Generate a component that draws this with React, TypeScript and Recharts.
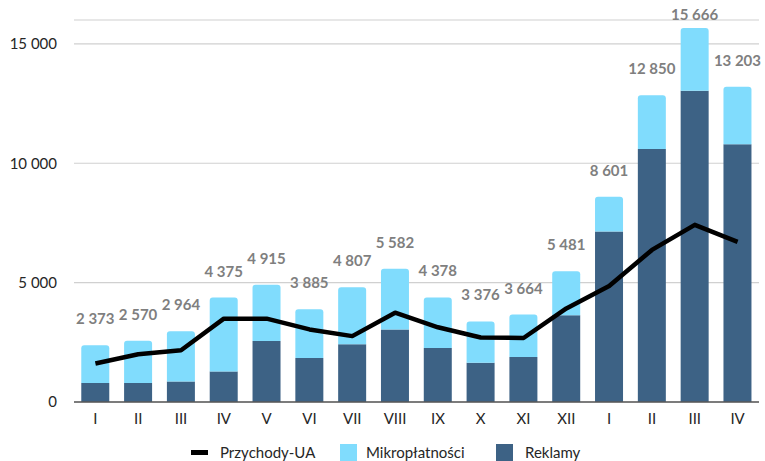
import React from 'react';
import {
  ComposedChart,
  Bar,
  Line,
  XAxis,
  YAxis,
  CartesianGrid,
  LabelList,
} from 'recharts';

const months = ['I', 'II', 'III', 'IV', 'V', 'VI', 'VII', 'VIII', 'IX', 'X', 'XI', 'XII', 'I', 'II', 'III', 'IV'];
const totals = [2373, 2570, 2964, 4375, 4915, 3885, 4807, 5582, 4378, 3376, 3664, 5481, 8601, 12850, 15666, 13203];
const reklamy = [800, 800, 860, 1280, 2550, 1840, 2420, 3040, 2260, 1640, 1890, 3630, 7140, 10600, 13040, 10800];
const przychodyUA = [1610, 2000, 2170, 3490, 3490, 3040, 2760, 3740, 3130, 2700, 2680, 3920, 4860, 6370, 7420, 6710];

const DARK = '#3d6285';
const LIGHT = '#80dcfd';
const FONT = 'Lato, "Open Sans", sans-serif';

const data = months.map((m, i) => ({
  key: `${m}-${i}`,
  month: m,
  reklamy: reklamy[i],
  mikro: totals[i] - reklamy[i],
  total: totals[i],
  ua: przychodyUA[i],
}));

const fmt = (v: number) => String(v).replace(/\B(?=(\d{3})+(?!\d))/g, ' ');

// total sits above the stack, pushed down when it would leave the top edge
const TotalLabel = (props: any) => {
  const { x, y, width, value } = props;
  return (
    <text
      x={x + width / 2}
      y={Math.max(y - 21, 20)}
      textAnchor="middle"
      fill="#7f7f7f"
      fontSize={15}
      fontWeight={700}
      fontFamily={FONT}
    >
      {fmt(value)}
    </text>
  );
};

function LegendRow() {
  const item = { display: 'flex', alignItems: 'center', position: 'absolute' as const, top: 443 };
  const text = { fontSize: 15, color: '#262626', fontFamily: FONT };
  return (
    <>
      <div style={{ ...item, left: 191 }}>
        <span style={{ width: 17, height: 5, background: '#000', marginRight: 12 }} />
        <span style={text}>Przychody-UA</span>
      </div>
      <div style={{ ...item, left: 340 }}>
        <span style={{ width: 17, height: 17, background: LIGHT, marginRight: 9 }} />
        <span style={text}>Mikropłatności</span>
      </div>
      <div style={{ ...item, left: 496 }}>
        <span style={{ width: 17, height: 17, background: DARK, marginRight: 12 }} />
        <span style={text}>Reklamy</span>
      </div>
    </>
  );
}

export default function App() {
  return (
    <div style={{ position: 'absolute', left: 0, top: 0, width: 765, height: 461, background: '#fff' }}>
      <ComposedChart
        width={765}
        height={461}
        data={data}
        margin={{ top: 20, right: 6, bottom: 29, left: 0 }}
        barCategoryGap="17%"
      >
        <CartesianGrid vertical={false} stroke="#d0d0d0" strokeWidth={1.2} />
        <XAxis
          dataKey="key"
          tickFormatter={(v: string) => v.split('-')[0]}
          height={30}
          tickLine={false}
          tickMargin={5}
          axisLine={{ stroke: '#595959', strokeWidth: 1.5 }}
          tick={{ fill: '#262626', fontSize: 15, fontFamily: FONT }}
          interval={0}
        />
        <YAxis
          width={74}
          domain={[0, 16000]}
          ticks={[0, 5000, 10000, 15000]}
          tickFormatter={fmt}
          axisLine={false}
          tickLine={false}
          tickMargin={11}
          tick={{ fill: '#262626', fontSize: 15, fontFamily: FONT }}
        />
        <Bar dataKey="reklamy" stackId="a" fill={DARK} isAnimationActive={false} />
        <Bar dataKey="mikro" stackId="a" fill={LIGHT} radius={[3, 3, 0, 0]} isAnimationActive={false}>
          <LabelList dataKey="total" content={TotalLabel} />
        </Bar>
        <Line
          dataKey="ua"
          type="linear"
          stroke="#000"
          strokeWidth={4.5}
          strokeLinejoin="round"
          dot={false}
          activeDot={false}
          isAnimationActive={false}
        />
      </ComposedChart>
      <LegendRow />
    </div>
  );
}
